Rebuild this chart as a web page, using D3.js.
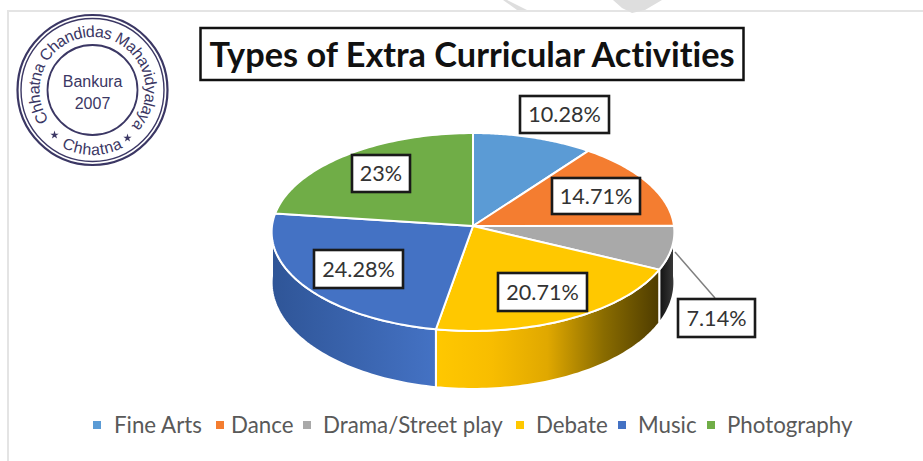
<!DOCTYPE html>
<html><head><meta charset="utf-8">
<script src="https://cdn.jsdelivr.net/npm/d3@7/dist/d3.min.js"></script>
<style>html,body{margin:0;padding:0;background:#fff}svg{display:block}text{font-family:Lato,sans-serif;font-variant-ligatures:none}</style>
</head><body><svg id="c" width="923" height="461"></svg>
<script>
const categories = ["Fine Arts","Dance","Drama/Street play","Debate","Music","Photography"];
const values = [10.28,14.71,7.14,20.71,24.28,23];
const valueLabels = ["10.28%","14.71%","7.14%","20.71%","24.28%","23%"];
const topColors = ["#5b9bd5","#f47d30","#a9a9a9","#ffc800","#4472c4","#70ad47"];
const wallStops = [null,null,["#3a3a3a","#111111"],["#4e3c00","#8a6c00","#e0a800","#f8bd00","#ffc800"],["#4472c4","#2f5597"],null];
const title = "Types of Extra Curricular Activities";
const sealTop = "Chhatna Chandidas Mahavidyalaya";
const sealBottom = "Chhatna";
const sealCentre = ["Bankura","2007"];

const svg = d3.select("#c"), defs = svg.append("defs");
// page frame and faint scan marks
svg.append("path").attr("d","M8 461V11H923").attr("fill","none").attr("stroke","#e4e4e4").attr("stroke-width",2);
svg.append("path").attr("d","M507 0L527 10H517L503 0ZM613 0L622 8L632 13L645 10L662 0Z").attr("fill","#dedede");

// projection of the tilted pie: unit circle -> screen
const cx=473, cy=226, B=201, A=98.6, K=0.0606;
const project=(t,drop=false)=>{const u=Math.sin(t),v=-Math.cos(t),d=1-K*v;
  return [cx+B*u/d, cy+A*v/d+(drop?50+8*v:0)];};
const arcPts=(a,b,drop)=>d3.range(0,61).map(i=>project(a+(b-a)*i/60,drop));
const line=d3.line();
const pieGen=d3.pie().sort(null).value(d=>d);
const slices=pieGen(values);

// gradients for side walls, along x
wallStops.forEach((s,i)=>{ if(!s) return;
  const a=Math.max(slices[i].startAngle,Math.PI/2), b=Math.min(slices[i].endAngle,1.5*Math.PI);
  const x0=project(a)[0], x1=project(b)[0];
  const g=defs.append("linearGradient").attr("id","w"+i).attr("gradientUnits","userSpaceOnUse")
    .attr("x1",x0).attr("x2",x1).attr("y1",0).attr("y2",0);
  s.forEach((c,j)=>g.append("stop").attr("offset",j/(s.length-1)).attr("stop-color",c));
});

// side walls
const wall=svg.append("g");
slices.forEach((d,i)=>{
  const a=Math.max(d.startAngle,Math.PI/2), b=Math.min(d.endAngle,1.5*Math.PI);
  if(b<=a) return;
  const pts=arcPts(a,b,false).concat(arcPts(b,a,true));
  wall.append("path").attr("d",line(pts)+"Z")
    .attr("fill",wallStops[i]?`url(#w${i})`:topColors[i])
    .attr("stroke","#fff").attr("stroke-width",2).attr("stroke-linejoin","round");
});
// top faces
const faces=svg.append("g");
slices.forEach((d,i)=>{
  const pts=[[cx,cy]].concat(arcPts(d.startAngle,d.endAngle,false));
  faces.append("path").attr("d",line(pts)+"Z").attr("fill",topColors[i])
    .attr("stroke","#fff").attr("stroke-width",2).attr("stroke-linejoin","round");
});

// title
svg.append("rect").attr("x",200.5).attr("y",28).attr("width",543).attr("height",52)
  .attr("fill","#fff").attr("stroke","#111").attr("stroke-width",2.5);
svg.append("text").attr("x",472).attr("y",67).attr("text-anchor","middle")
  .attr("font-size",34.3).attr("font-weight",700).attr("fill","#111").text(title);

// data labels
const labelBoxes=[[520,96,89,37],[552,178,88,36],[678,299,77,38],[498,273,89,38],[314,250,89,38],[352,155,58,37]];
svg.append("line").attr("x1",675).attr("y1",252).attr("x2",715).attr("y2",298)
  .attr("stroke","#7f7f7f").attr("stroke-width",1.5);
valueLabels.forEach((t,i)=>{const [x,y,w,h]=labelBoxes[i];
  svg.append("rect").attr("x",x).attr("y",y).attr("width",w).attr("height",h)
    .attr("fill","#fff").attr("stroke","#1a1a1a").attr("stroke-width",2.6);
  svg.append("text").attr("x",x+w/2).attr("y",y+h/2+7.5).attr("text-anchor","middle")
    .attr("font-size",21.6).attr("fill","#333").text(t);
});

// legend
const legendMarkX=[97,220,307,520,622,711], legendTextX=[114,231,323,536,638,727];
categories.forEach((t,i)=>{
  svg.append("rect").attr("x",legendMarkX[i]-4).attr("y",421).attr("width",8).attr("height",8).attr("fill",topColors[i]);
  svg.append("text").attr("x",legendTextX[i]).attr("y",432.5).attr("font-size",22.3).attr("fill","#595959").text(t);
});

// seal
const seal=svg.append("g").attr("transform","translate(92.5,90)"), ink="#3b3764";
[[75,2.2],[71.5,1.4],[45,1.8]].forEach(([r,w])=>seal.append("circle").attr("r",r).attr("fill","none").attr("stroke",ink).attr("stroke-width",w));
const rT=53, rB=65, a0=-2.18, a1=2.7;
const polar=(r,a)=>`${r*Math.sin(a)} ${-r*Math.cos(a)}`;
defs.append("path").attr("id","sTop").attr("d",`M${polar(rT,a0)}A${rT} ${rT} 0 1 1 ${polar(rT,a1)}`);
defs.append("path").attr("id","sBot").attr("d",`M${-rB} 0A${rB} ${rB} 0 0 0 ${rB} 0`);
seal.append("text").attr("font-size",16).attr("fill",ink).attr("style","font-family:'Liberation Sans'")
  .append("textPath").attr("href","#sTop").attr("textLength",238).attr("lengthAdjust","spacing").text(sealTop);
seal.append("text").attr("font-size",16).attr("fill",ink).attr("style","font-family:'Liberation Sans'").attr("letter-spacing",0.6)
  .append("textPath").attr("href","#sBot").attr("startOffset","50%").attr("text-anchor","middle").text(sealBottom);
[[-38,45],[35,48]].forEach(([x,y])=>seal.append("path").attr("d",d3.symbol(d3.symbolStar,22)()).attr("transform",`translate(${x},${y})`).attr("fill",ink));
sealCentre.forEach((t,i)=>seal.append("text").attr("y",-3+i*22).attr("text-anchor","middle").attr("font-size",16)
  .attr("style","font-family:'Liberation Sans'").attr("fill",ink).text(t));
</script></body></html>
